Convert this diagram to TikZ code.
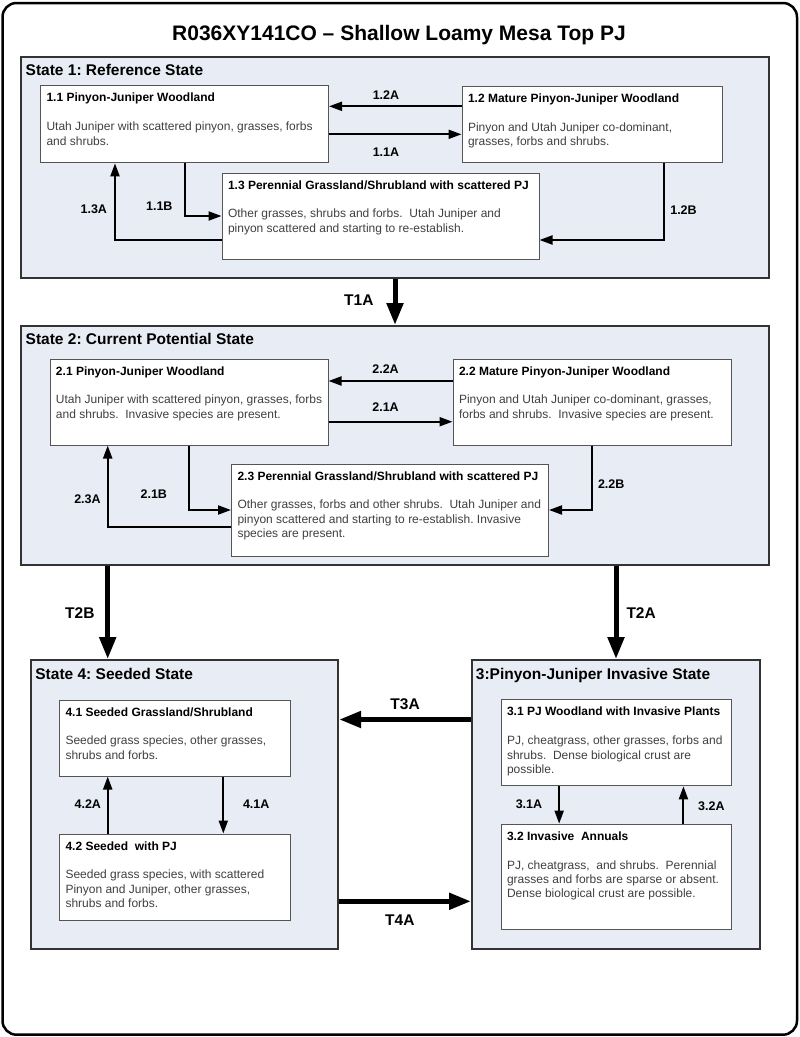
\documentclass[tikz,border=0pt]{standalone}
\usepackage{fontspec}
\setmainfont{Liberation Sans}
\usetikzlibrary{arrows.meta}
\frenchspacing
\definecolor{statefill}{RGB}{232,236,244}
\definecolor{bodygray}{RGB}{64,64,64}
\definecolor{boxline}{RGB}{85,85,85}
\newcommand{\phasetext}[4]{\parbox[c][#2][t]{#1}{\color{bodygray}\begin{tabular}[t]{@{}l@{}}\textcolor{black}{\bfseries #3}\\ \\ #4\end{tabular}}}
\tikzstyle{outerframe} = [rectangle, rounded corners=14pt, draw=black, line width=2.5pt, minimum width=794.5pt, minimum height=1031.7pt]
\tikzstyle{maintitle} = [font=\fontsize{21}{25}\selectfont\bfseries, anchor=base, inner sep=0pt]
\tikzstyle{statebox} = [rectangle, draw=black!80, line width=2pt, fill=statefill, inner sep=0pt]
\tikzstyle{statetitle} = [font=\fontsize{15.5}{18}\selectfont\bfseries, anchor=base west, inner sep=0pt]
\tikzstyle{phasebox} = [rectangle, draw=boxline, line width=1pt, fill=white, inner sep=6pt, font=\fontsize{12}{14.4}\selectfont]
\tikzstyle{tlabel} = [font=\fontsize{12.5}{15}\selectfont\bfseries, inner sep=0pt]
\tikzstyle{ttlabel} = [font=\fontsize{15.5}{18}\selectfont\bfseries, inner sep=0pt]
\tikzstyle{arrow} = [line width=2pt, ->, >={Triangle[length=13pt,width=9pt]}]
\tikzstyle{transition} = [line width=5pt, ->, >={Triangle[length=22pt,width=16pt]}]

\begin{document}
\begin{tikzpicture}[x=1pt, y=-1pt, node distance=100pt]
            \useasboundingbox (0,0) rectangle (800,1037);
            \node (frame) [outerframe] at (399.75,518.85) {};
            \node (title) [maintitle] at (399,40) {R036XY141CO – Shallow Loamy Mesa Top PJ};

            \node (s1) [statebox, minimum width=748pt, minimum height=221pt] at (395,167.7) {};
            \node (s2) [statebox, minimum width=748pt, minimum height=239pt, below of=s1, yshift=-177.8pt] {};
            \node (s4) [statebox, minimum width=307pt, minimum height=288.5pt, below of=s2, xshift=-210.3pt, yshift=-258.8pt] {};
            \node (s3) [statebox, minimum width=288pt, minimum height=288.5pt, right of=s4, xshift=331.3pt] {};
            \node (s1title) [statetitle] at ([xshift=5.5pt, yshift=-19.4pt]s1.north west) {State 1: Reference State};
            \node (s2title) [statetitle] at ([xshift=5.5pt, yshift=-19pt]s2.north west) {State 2: Current Potential State};
            \node (s4title) [statetitle] at ([xshift=5pt, yshift=-20.7pt]s4.north west) {State 4: Seeded State};
            \node (s3title) [statetitle] at ([xshift=4.7pt, yshift=-20.7pt]s3.north west) {3:Pinyon-Juniper Invasive State};

            \node (n11) [phasebox, left of=s1, xshift=-110.5pt, yshift=43.4pt] {\phasetext{276pt}{65pt}{1.1 Pinyon-Juniper Woodland}{Utah Juniper with scattered pinyon, grasses, forbs\\and shrubs.}};
            \node (n12) [phasebox, right of=n11, xshift=307.5pt] {\phasetext{248pt}{64pt}{1.2 Mature Pinyon-Juniper Woodland}{Pinyon and Utah Juniper co-dominant,\\grasses, forbs and shrubs.}};
            \node (n13) [phasebox, below of=n11, xshift=196pt, yshift=8.3pt] {\phasetext{305pt}{74pt}{1.3 Perennial Grassland/Shrubland with scattered PJ}{Other grasses, shrubs and forbs.~~Utah Juniper and\\pinyon scattered and starting to re-establish.}};
            \node (n21) [phasebox, left of=s2, xshift=-106pt, yshift=43.5pt] {\phasetext{266pt}{74pt}{2.1 Pinyon-Juniper Woodland}{Utah Juniper with scattered pinyon, grasses, forbs\\and shrubs.~~Invasive species are present.}};
            \node (n22) [phasebox, right of=n21, xshift=303pt] {\phasetext{266pt}{74pt}{2.2 Mature Pinyon-Juniper Woodland}{Pinyon and Utah Juniper co-dominant, grasses,\\forbs and shrubs.~~Invasive species are present.}};
            \node (n23) [phasebox, below of=n21, xshift=201pt, yshift=-8pt] {\phasetext{305pt}{80pt}{2.3 Perennial Grassland/Shrubland with scattered PJ}{Other grasses, forbs and other shrubs.~~Utah Juniper and\\pinyon scattered and starting to re-establish. Invasive\\species are present.}};
            \node (n41) [phasebox, above of=s4, xshift=-9.7pt, yshift=-33.7pt] {\phasetext{219pt}{64pt}{4.1 Seeded Grassland/Shrubland}{Seeded grass species, other grasses,\\shrubs and forbs.}};
            \node (n42) [phasebox, below of=n41, yshift=-39pt] {\phasetext{219pt}{74pt}{4.2 Seeded~~with PJ}{Seeded grass species, with scattered\\Pinyon and Juniper, other grasses,\\shrubs and forbs.}};
            \node (n31) [phasebox, above of=s3, yshift=-38.5pt] {\phasetext{218pt}{74pt}{3.1 PJ Woodland with Invasive Plants}{PJ, cheatgrass, other grasses, forbs and\\shrubs.~~Dense biological crust are\\possible.}};
            \node (n32) [phasebox, below of=n31, yshift=-33.85pt] {\phasetext{218pt}{93pt}{3.2 Invasive~~Annuals}{PJ, cheatgrass,~~and shrubs.~~Perennial\\grasses and forbs are sparse or absent.\\Dense biological crust are possible.}};
            \coordinate (t2b) at ([xshift=-287.3pt]s2.south);

            \draw [arrow] ([yshift=18pt]n12.west) -- node[tlabel, pos=0.57, anchor=base, yshift=7pt] (l12a) {1.2A} ([yshift=18pt]n11.east);
            \draw [arrow] ([yshift=-10pt]n11.east) -- node[tlabel, pos=0.43, anchor=base, yshift=-22.4pt] (l11a) {1.1A} ([yshift=-10pt]n12.west);
            \draw [arrow] (n11.south) |- node[tlabel, anchor=base east, xshift=-11pt, yshift=6pt] (l11b) {1.1B} (n13.west);
            \draw [arrow] ([yshift=-24pt]n13.west) -| node[tlabel, anchor=base east, xshift=-7pt, yshift=27pt] (l13a) {1.3A} ([xshift=-69.5pt]n11.south);
            \draw [arrow] ([xshift=72.3pt]n12.south) |- node[tlabel, anchor=base west, xshift=5pt, yshift=26pt] (l12b) {1.2B} ([yshift=-24pt]n13.east);
            \draw [arrow] ([yshift=21pt]n22.west) -- node[tlabel, pos=0.54, anchor=base, yshift=8pt] (l22a) {2.2A} ([yshift=21pt]n21.east);
            \draw [arrow] ([yshift=-19.7pt]n21.east) -- node[tlabel, pos=0.46, anchor=base, yshift=10pt] (l21a) {2.1A} ([yshift=-19.7pt]n22.west);
            \draw [arrow] (n21.south) |- node[tlabel, anchor=base east, xshift=-21pt, yshift=12pt] (l21b) {2.1B} (n23.west);
            \draw [arrow] ([yshift=-17pt]n23.west) -| node[tlabel, anchor=base east, xshift=-6pt, yshift=24pt] (l23a) {2.3A} ([xshift=-81.3pt]n21.south);
            \draw [arrow] (n22.south) |- node[tlabel, anchor=base west, xshift=5pt, yshift=22pt] (l22b) {2.2B} (n23.east);
            \draw [arrow] ([xshift=48.3pt]n41.south) -- node[tlabel, anchor=base west, xshift=18.7pt, yshift=-3pt] (l41a) {4.1A} ([xshift=48.3pt]n42.north);
            \draw [arrow] ([xshift=-67.3pt]n42.north) -- node[tlabel, anchor=base east, xshift=-5.7pt, yshift=-3pt] (l42a) {4.2A} ([xshift=-67.3pt]n41.south);
            \draw [arrow] ([xshift=-56.85pt]n31.south) -- node[tlabel, anchor=base east, xshift=-16pt, yshift=-4pt] (l31a) {3.1A} ([xshift=-56.85pt]n32.north);
            \draw [arrow] ([xshift=67.45pt]n32.north) -- node[tlabel, anchor=base west, xshift=13.7pt, yshift=-6pt] (l32a) {3.2A} ([xshift=67.45pt]n31.south);

            \draw [transition] (s1.south) -- node[ttlabel, anchor=base east, xshift=-19pt, yshift=-3pt] (lt1a) {T1A} (s2.north);
            \draw [transition] (t2b) -- node[ttlabel, anchor=base east, xshift=-10.7pt, yshift=-5.5pt] (lt2b) {T2B} (t2b |- s4.north);
            \draw [transition] (s3.north |- s2.south) -- node[ttlabel, anchor=base west, xshift=8pt, yshift=-5.5pt] (lt2a) {T2A} (s3.north);
            \draw [transition] ([yshift=84.8pt]s3.west) -- node[ttlabel, pos=0.5, anchor=base, yshift=10.5pt] (lt3a) {T3A} ([yshift=84.8pt]s4.east);
            \draw [transition] ([yshift=-97pt]s4.east) -- node[ttlabel, pos=0.46, anchor=base, yshift=-23.7pt] (lt4a) {T4A} ([yshift=-97pt]s3.west);
        \end{tikzpicture}
\end{document}
